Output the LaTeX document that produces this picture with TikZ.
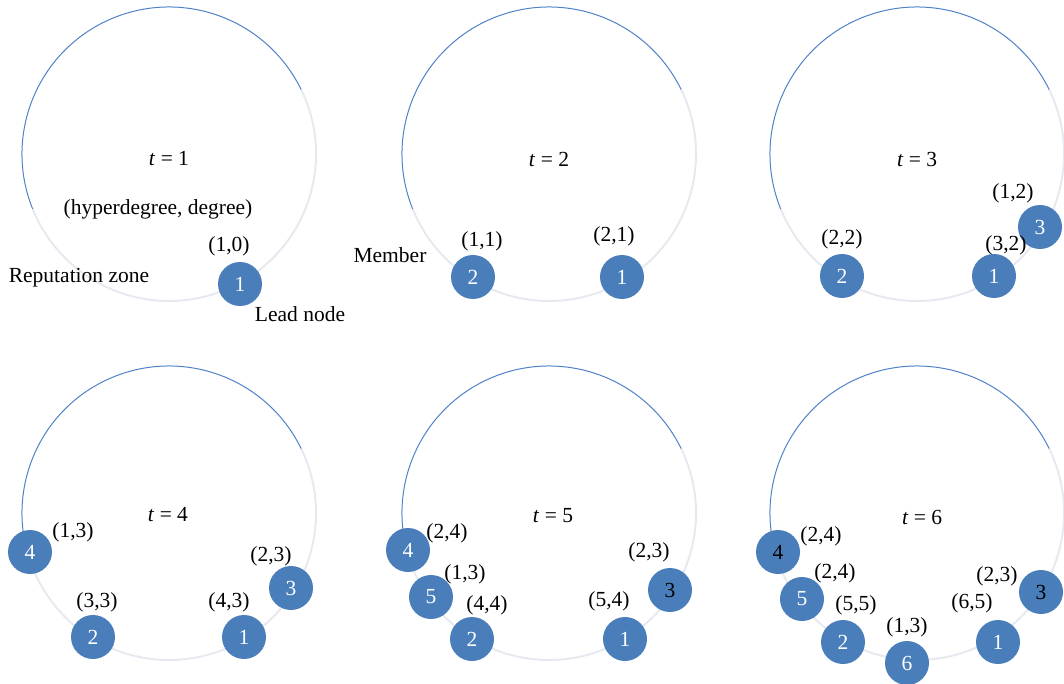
\documentclass[tikz,border=0pt]{standalone}
\usepackage{fontspec}
\setmainfont{Liberation Serif}
\definecolor{nodeblue}{RGB}{74,126,187}
\definecolor{arcblue}{RGB}{80,130,200}
\definecolor{arcgrey}{RGB}{230,234,240}
\begin{document}
\begin{tikzpicture}[x=1pt,y=-1pt,
  every node/.style={font=\fontsize{21.5}{25}\selectfont, inner sep=0pt},
  member/.style={circle, fill=nodeblue, minimum size=44pt, inner sep=0pt, text=white},
  dark/.style={text=black},
  pair/.style={text=black},
  zonegrey/.style={draw=arcgrey, line width=2pt},
  zoneblue/.style={draw=arcblue, line width=1pt}]
\useasboundingbox (0,0) rectangle (1064,684);

% reputation zone: faint lower arc, blue upper arc
\newcommand{\zone}[3]{%
  \coordinate (#1) at (#2,#3);
  \draw[zonegrey] ([shift={(-26:147)}]#1) arc[start angle=-26, end angle=158, radius=147];
  \draw[zoneblue] ([shift={(-202:147)}]#1) arc[start angle=-202, end angle=-26, radius=147];
}
\zone{z1}{169}{154}
\zone{z2}{549}{154}
\zone{z3}{917}{154}
\zone{z4}{169}{513}
\zone{z5}{549}{513}
\zone{z6}{917}{513}

% t = 1
\node (t1) at (169,159) {\textit{t} = 1};
\node (hd) at (158,209) {(hyperdegree, degree)};
\node (rz) at (79,278) {Reputation zone};
\node (ln) at (300,314) {Lead node};
\node[member] (a1) at (240,284) {1};
\node[pair] (pa1) at (229,246) {(1,0)};

% t = 2
\node (t2) at (549,159) {\textit{t} = 2};
\node (mb) at (390,255) {Member};
\node[member] (b2) at (473,277) {2};
\node[member] (b1) at (622,277) {1};
\node[pair] (pb2) at (482,241) {(1,1)};
\node[pair] (pb1) at (614,236) {(2,1)};

% t = 3
\node (t3) at (917,159) {\textit{t} = 3};
\node[member] (c2) at (842,276) {2};
\node[member] (c1) at (994,276) {1};
\node[member] (c3) at (1040,227) {3};
\node[pair] (pc2) at (842,239) {(2,2)};
\node[pair] (pc1) at (1006,245) {(3,2)};
\node[pair] (pc3) at (1013,193) {(1,2)};

% t = 4
\node (t4) at (168,515) {\textit{t} = 4};
\node[member] (d4) at (30,552) {4};
\node[member] (d2) at (93,637) {2};
\node[member] (d1) at (244,637) {1};
\node[member] (d3) at (291,588) {3};
\node[pair] (pd4) at (73,532) {(1,3)};
\node[pair] (pd3) at (271,556) {(2,3)};
\node[pair] (pd2) at (97,602) {(3,3)};
\node[pair] (pd1) at (229,602) {(4,3)};

% t = 5
\node (t5) at (553,516) {\textit{t} = 5};
\node[member] (e4) at (408,550) {4};
\node[member] (e5) at (431,597) {5};
\node[member] (e2) at (472,639) {2};
\node[member] (e1) at (625,639) {1};
\node[member, dark] (e3) at (670,590) {3};
\node[pair] (pe4) at (447,533) {(2,4)};
\node[pair] (pe5) at (465,574) {(1,3)};
\node[pair] (pe2) at (487,605) {(4,4)};
\node[pair] (pe3) at (649,552) {(2,3)};
\node[pair] (pe1) at (609,601) {(5,4)};

% t = 6
\node (t6) at (922,517) {\textit{t} = 6};
\node[member, dark] (f4) at (778,552) {4};
\node[member] (f5) at (802,599) {5};
\node[member] (f2) at (843,642) {2};
\node[member] (f6) at (907,663) {6};
\node[member] (f1) at (998,642) {1};
\node[member, dark] (f3) at (1041,592) {3};
\node[pair] (pf4) at (821,536) {(2,4)};
\node[pair] (pf5) at (835,573) {(2,4)};
\node[pair] (pf2) at (856,605) {(5,5)};
\node[pair] (pf6) at (907,627) {(1,3)};
\node[pair] (pf1) at (972,603) {(6,5)};
\node[pair] (pf3) at (997,576) {(2,3)};
\end{tikzpicture}
\end{document}
